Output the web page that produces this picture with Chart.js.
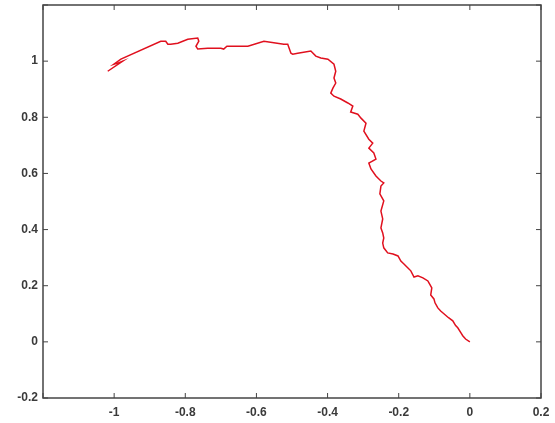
<!DOCTYPE html>
<html>
<head>
<meta charset="utf-8">
<script src="https://cdn.jsdelivr.net/npm/chart.js@4/dist/chart.umd.min.js"></script>
<style>
  html, body { margin: 0; padding: 0; background: #fff; }
  #wrap { width: 555px; height: 423px; }
</style>
</head>
<body>
<div id="wrap"><canvas id="grafico"></canvas></div>
<script>
// --- Datos ---
const trayX = [0, -0.012, -0.020, -0.025, -0.034, -0.040, -0.048, -0.060, -0.073, -0.082, -0.090, -0.098, -0.101, -0.110, -0.107,
  -0.115, -0.118, -0.132, -0.146, -0.157, -0.166, -0.174, -0.186, -0.194, -0.202,
  -0.216, -0.231, -0.242, -0.245, -0.242, -0.245, -0.250, -0.245, -0.250, -0.242,
  -0.253, -0.250, -0.242, -0.250, -0.264, -0.278, -0.284, -0.264, -0.270, -0.284,
  -0.273, -0.284, -0.298, -0.292, -0.306, -0.315, -0.335, -0.329, -0.343, -0.363,
  -0.382, -0.391, -0.385, -0.377, -0.382, -0.377, -0.382, -0.399, -0.419, -0.433,
  -0.447, -0.484, -0.498, -0.503, -0.512, -0.523, -0.579, -0.624, -0.663, -0.683,
  -0.692, -0.700, -0.737, -0.765, -0.770, -0.762, -0.765, -0.793, -0.821, -0.841,
  -0.849, -0.855, -0.869, -0.981, -1.001, -0.990, -0.976, -1.018];
const trayY = [0, 0.010, 0.022, 0.032, 0.050, 0.058, 0.075, 0.086, 0.100, 0.110, 0.121, 0.139, 0.153, 0.167, 0.192,
  0.210, 0.217, 0.228, 0.235, 0.231, 0.253, 0.263, 0.278, 0.288, 0.306,
  0.313, 0.317, 0.335, 0.352, 0.370, 0.388, 0.406, 0.438, 0.466, 0.502,
  0.527, 0.555, 0.566, 0.573, 0.591, 0.616, 0.637, 0.651, 0.673, 0.690,
  0.708, 0.722, 0.751, 0.779, 0.797, 0.811, 0.819, 0.840, 0.851, 0.865,
  0.875, 0.886, 0.904, 0.922, 0.940, 0.964, 0.989, 1.007, 1.011, 1.018,
  1.036, 1.028, 1.025, 1.028, 1.060, 1.060, 1.071, 1.053, 1.053, 1.053,
  1.043, 1.046, 1.046, 1.043, 1.053, 1.071, 1.082, 1.078, 1.064, 1.060,
  1.060, 1.071, 1.071, 1.007, 0.989, 0.993, 1.000, 0.964];

const ejeX = { min: -1.2, max: 0.2, paso: 0.2 };
const ejeY = { min: -0.2, max: 1.2, paso: 0.2 };

const puntos = trayX.map((x, i) => ({ x: x, y: trayY[i] }));

function etiqueta(v) {
  const r = Math.round(v * 10) / 10;
  return String(r);
}

// Caja completa y marcas hacia dentro, estilo MATLAB
const cajaPlugin = {
  id: 'caja',
  afterDraw(chart) {
    const ctx = chart.ctx;
    const a = chart.chartArea;
    const sx = chart.scales.x, sy = chart.scales.y;
    ctx.save();
    ctx.strokeStyle = '#444';
    ctx.lineWidth = 1.5;
    ctx.strokeRect(a.left, a.top, a.right - a.left, a.bottom - a.top);
    ctx.lineWidth = 1;
    const L = 5;
    sx.ticks.forEach(t => {
      const p = sx.getPixelForValue(t.value);
      ctx.beginPath();
      ctx.moveTo(p, a.bottom); ctx.lineTo(p, a.bottom - L);
      ctx.moveTo(p, a.top); ctx.lineTo(p, a.top + L);
      ctx.stroke();
    });
    sy.ticks.forEach(t => {
      const p = sy.getPixelForValue(t.value);
      ctx.beginPath();
      ctx.moveTo(a.left, p); ctx.lineTo(a.left + L, p);
      ctx.moveTo(a.right, p); ctx.lineTo(a.right - L, p);
      ctx.stroke();
    });
    ctx.restore();
  }
};

const fuenteEje = { family: 'Liberation Sans', size: 12, weight: 'bold' };

new Chart(document.getElementById('grafico'), {
  type: 'scatter',
  data: {
    datasets: [{
      data: puntos,
      showLine: true,
      borderColor: '#e0101e',
      borderWidth: 1.5,
      pointRadius: 0,
      tension: 0
    }]
  },
  options: {
    responsive: true,
    maintainAspectRatio: false,
    animation: false,
    layout: { padding: { top: 5, right: 14, left: 0, bottom: 0 } },
    plugins: { legend: { display: false }, tooltip: { enabled: false } },
    scales: {
      x: {
        min: ejeX.min, max: ejeX.max,
        grid: { display: false, drawTicks: false },
        border: { display: false },
        ticks: {
          stepSize: ejeX.paso,
          padding: 7,
          color: '#3a3a3a',
          font: fuenteEje,
          callback: v => (Math.abs(v - ejeX.min) < 1e-6 ? '' : etiqueta(v))
        },
        afterFit: s => { s.height = 25; s.paddingLeft = 0; s.paddingRight = 0; }
      },
      y: {
        min: ejeY.min, max: ejeY.max,
        grid: { display: false, drawTicks: false },
        border: { display: false },
        ticks: {
          stepSize: ejeY.paso,
          padding: 5,
          color: '#3a3a3a',
          font: fuenteEje,
          callback: v => (Math.abs(v - ejeY.max) < 1e-6 ? '' : etiqueta(v))
        },
        afterFit: s => { s.width = 43; s.paddingTop = 0; s.paddingBottom = 0; }
      }
    }
  },
  plugins: [cajaPlugin]
});
</script>
</body>
</html>
